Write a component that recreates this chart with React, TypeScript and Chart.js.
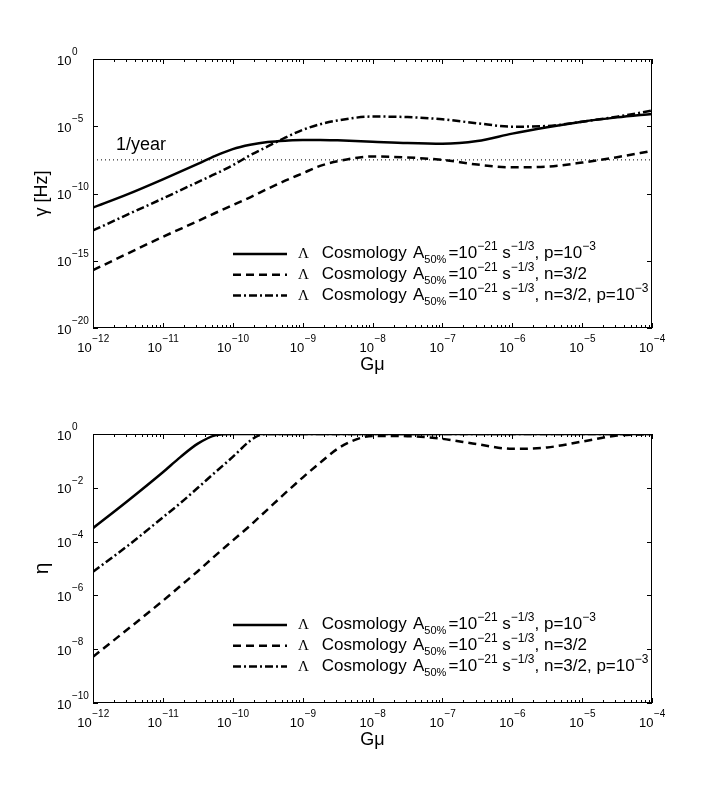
import React, { useEffect, useRef } from "react";
import { Chart, registerables } from "chart.js";

Chart.register(...registerables);

const gmuTop = [-12, -11.5, -11, -10.5, -10.25, -10, -9.75, -9.5, -9.25, -9, -8.75, -8.5, -8, -7.5, -7, -6.5, -6, -5.5, -5, -4.5, -4];
// log10(γ / Hz)
const gammaP = [-11.05, -10.05, -8.95, -7.8, -7.2, -6.7, -6.38, -6.17, -6.07, -6.03, -6.02, -6.05, -6.15, -6.25, -6.3, -6.1, -5.55, -5.08, -4.66, -4.34, -4.08];
const gammaN = [-15.7, -14.45, -13.22, -12.05, -11.45, -10.87, -10.28, -9.65, -9.05, -8.5, -7.95, -7.6, -7.25, -7.32, -7.5, -7.85, -8.05, -8.0, -7.7, -7.3, -6.83];
const gammaNP = [-12.75, -11.55, -10.37, -9.15, -8.55, -7.9, -7.15, -6.5, -5.85, -5.27, -4.85, -4.57, -4.28, -4.32, -4.48, -4.78, -5.03, -4.98, -4.66, -4.29, -3.84];
const oneYearExp = -7.5; // 1/year in Hz

const gmuBottom = [-12, -11.5, -11, -10.75, -10.5, -10.25, -10, -9.75, -9.625, -9.5, -9.25, -9, -8.75, -8.5, -8.25, -8, -7.5, -7, -6.5, -6, -5.5, -5, -4.5, -4];
// log10(η)
const etaP = [-3.5, -2.48, -1.42, -0.86, -0.36, -0.05, 0, 0, 0, 0, 0, 0, 0, 0, 0, 0, 0, 0, 0, 0, 0, 0, 0, 0];
const etaN = [-8.28, -7.25, -6.2, -5.65, -5.1, -4.52, -3.96, -3.4, -3.1, -2.8, -2.2, -1.62, -1.07, -0.55, -0.22, -0.07, -0.08, -0.18, -0.38, -0.55, -0.5, -0.28, -0.06, 0];
const etaNP = [-5.12, -4.15, -3.1, -2.57, -2.0, -1.42, -0.85, -0.25, -0.05, 0, 0, 0, 0, 0, 0, 0, 0, 0, 0, 0, 0, 0, 0, 0];

// tick exponents
const xTickExps = [-12, -11, -10, -9, -8, -7, -6, -5, -4];
const gammaTickExps = [0, -5, -10, -15, -20];
const etaTickExps = [0, -2, -4, -6, -8, -10];

// legend pieces
const legendTails = [", p=10", ", n=3/2", ", n=3/2, p=10"];
const legendTailExps = ["−3", "", "−3"];
const seriesDash = [[], [8, 5], [8, 3, 2, 3]];

const SANS = '"Liberation Sans", Arial, Helvetica, sans-serif';
const SERIF = '"Liberation Serif", "Times New Roman", serif';
const f = (size: number, fam = SANS) => `${size}px ${fam}`;
const expText = (e: number) => (e === 0 ? "0" : "−" + Math.abs(e));

interface PanelSpec {
  height: number;
  padTop: number;
  padBottom: number;
  gmu: number[];
  series: number[][];
  yMin: number;
  yMax: number;
  yTicks: number[];
  yTitle: string;
  yTitleSize: number;
  legendBaseline: number;
  yearLine: boolean;
}

const makeDecor = (spec: PanelSpec) => ({
  id: "decor",
  afterDraw(chart: any) {
    const ctx: CanvasRenderingContext2D = chart.ctx;
    const { left, right, top, bottom } = chart.chartArea;
    const xs = chart.scales.x;
    const ys = chart.scales.y;
    ctx.save();
    ctx.fillStyle = "#000";
    ctx.strokeStyle = "#000";
    ctx.lineWidth = 1;
    ctx.setLineDash([]);

    // frame
    ctx.strokeRect(left + 0.5, top + 0.5, right - left - 1, bottom - top - 1);

    // x ticks (major + minor), inward on bottom and top
    ctx.beginPath();
    for (let d = -12; d <= -4; d++) {
      for (let m = 1; m <= 9; m++) {
        if (d === -4 && m > 1) break;
        const px = Math.round(xs.getPixelForValue(m * Math.pow(10, d))) + 0.5;
        const len = m === 1 ? 5 : 3;
        ctx.moveTo(px, bottom);
        ctx.lineTo(px, bottom - len);
        ctx.moveTo(px, top);
        ctx.lineTo(px, top + len);
      }
    }
    // y ticks, left and right
    for (const e of spec.yTicks) {
      const py = Math.round(ys.getPixelForValue(Math.pow(10, e))) + 0.5;
      ctx.moveTo(left, py);
      ctx.lineTo(left + 5, py);
      ctx.moveTo(right, py);
      ctx.lineTo(right - 5, py);
    }
    ctx.stroke();

    // x tick labels
    ctx.textBaseline = "alphabetic";
    ctx.textAlign = "left";
    for (const e of xTickExps) {
      const px = xs.getPixelForValue(Math.pow(10, e));
      ctx.font = f(13);
      const wb = ctx.measureText("10").width;
      ctx.font = f(10);
      const we = ctx.measureText(expText(e)).width;
      const x0 = px - (wb + we) / 2;
      ctx.font = f(13);
      ctx.fillText("10", x0, bottom + 24);
      ctx.font = f(10);
      ctx.fillText(expText(e), x0 + wb + 0.5, bottom + 14);
    }

    // y tick labels (left aligned, like the reference)
    for (const e of spec.yTicks) {
      const py = ys.getPixelForValue(Math.pow(10, e));
      ctx.font = f(13);
      const wb = ctx.measureText("10").width;
      ctx.fillText("10", 57, py + 5.5);
      ctx.font = f(10);
      ctx.fillText(expText(e), 57 + wb + 0.5, py - 4);
    }

    // axis titles
    ctx.textAlign = "center";
    ctx.textBaseline = "middle";
    ctx.font = f(18);
    ctx.fillText("Gμ", (left + right) / 2, bottom + 37);
    ctx.save();
    ctx.translate(42, (top + bottom) / 2);
    ctx.rotate(-Math.PI / 2);
    ctx.font = f(spec.yTitleSize);
    ctx.fillText(spec.yTitle, 0, 0);
    ctx.restore();

    if (spec.yearLine) {
      ctx.textAlign = "left";
      ctx.textBaseline = "alphabetic";
      ctx.font = f(18);
      ctx.fillText("1/year", 116, 150);
    }

    // legend
    ctx.textAlign = "left";
    ctx.textBaseline = "alphabetic";
    for (let i = 0; i < 3; i++) {
      const base = spec.legendBaseline + i * 20.8;
      const ly = base - 4;
      ctx.save();
      ctx.lineWidth = 2.5;
      ctx.setLineDash(seriesDash[i]);
      ctx.beginPath();
      ctx.moveTo(233, ly);
      ctx.lineTo(287, ly);
      ctx.stroke();
      ctx.restore();

      ctx.font = f(15, SERIF);
      ctx.fillText("Λ", 298, base);
      let x = 321.7;
      const put = (t: string, size: number, dy: number) => {
        ctx.font = f(size);
        ctx.fillText(t, x, base + dy);
        x += ctx.measureText(t).width;
      };
      put("Cosmology", 17, 0);
      x += 6.3;
      put("A", 17, 0);
      put("50%", 11, 5);
      x += 2;
      put("=10", 17, 0);
      put("−21", 12, -8);
      put(" s", 17, 0);
      put("−1/3", 12, -8);
      put(legendTails[i], 17, 0);
      if (legendTailExps[i]) put(legendTailExps[i], 12, -8);
    }
    ctx.restore();
  },
});

const toPoints = (xsExp: number[], ysExp: number[]) =>
  xsExp.map((e, i) => ({ x: Math.pow(10, e), y: Math.pow(10, ysExp[i]) }));

function Panel({ spec }: { spec: PanelSpec }) {
  const canvasRef = useRef<HTMLCanvasElement | null>(null);

  useEffect(() => {
    if (canvasRef.current === null) return;
    const datasets: any[] = spec.series.map((s, i) => ({
      data: toPoints(spec.gmu, s),
      borderColor: "#000",
      borderWidth: 2.5,
      borderDash: seriesDash[i],
      pointRadius: 0,
      cubicInterpolationMode: "monotone",
      fill: false,
    }));
    if (spec.yearLine) {
      datasets.push({
        data: [
          { x: 1e-12, y: Math.pow(10, oneYearExp) },
          { x: 1e-4, y: Math.pow(10, oneYearExp) },
        ],
        borderColor: "#000",
        borderWidth: 1,
        borderDash: [1, 3],
        pointRadius: 0,
        fill: false,
      });
    }
    const chart = new Chart(canvasRef.current, {
      type: "line",
      data: { datasets },
      options: {
        animation: false,
        responsive: true,
        maintainAspectRatio: false,
        layout: { padding: { left: 93, right: 68, top: spec.padTop, bottom: spec.padBottom } },
        plugins: { legend: { display: false }, tooltip: { enabled: false } },
        scales: {
          x: { type: "logarithmic", min: 1e-12, max: 1e-4, display: false },
          y: { type: "logarithmic", min: Math.pow(10, spec.yMin), max: Math.pow(10, spec.yMax), display: false },
        },
      },
      plugins: [makeDecor(spec)],
    } as any);
    return () => chart.destroy();
  }, []);

  return (
    <div style={{ position: "relative", width: 720, height: spec.height }}>
      <canvas ref={canvasRef}></canvas>
    </div>
  );
}

const topSpec: PanelSpec = {
  height: 395,
  padTop: 59,
  padBottom: 67,
  gmu: gmuTop,
  series: [gammaP, gammaN, gammaNP],
  yMin: -20,
  yMax: 0,
  yTicks: gammaTickExps,
  yTitle: "γ [Hz]",
  yTitleSize: 18,
  legendBaseline: 258,
  yearLine: true,
};

const bottomSpec: PanelSpec = {
  height: 396,
  padTop: 39,
  padBottom: 88,
  gmu: gmuBottom,
  series: [etaP, etaN, etaNP],
  yMin: -10,
  yMax: 0,
  yTicks: etaTickExps,
  yTitle: "η",
  yTitleSize: 21,
  legendBaseline: 234,
  yearLine: false,
};

export default function App() {
  return (
    <div style={{ position: "absolute", left: 0, top: 0, width: 720, height: 791, background: "#fff" }}>
      <Panel spec={topSpec} />
      <Panel spec={bottomSpec} />
    </div>
  );
}
